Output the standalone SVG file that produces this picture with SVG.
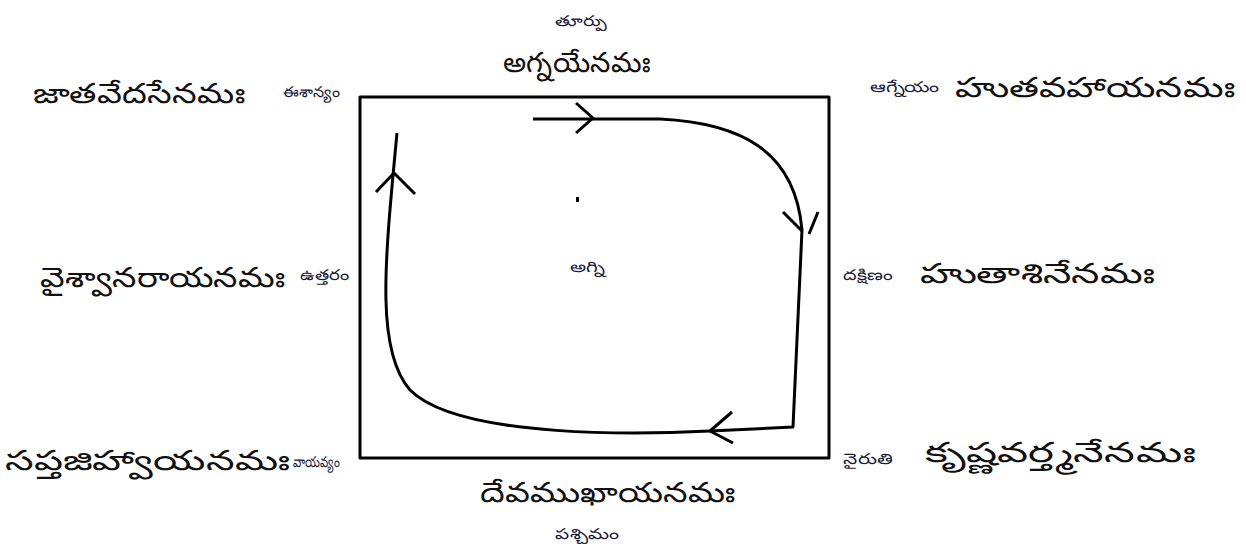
<svg xmlns="http://www.w3.org/2000/svg" width="1246" height="551" viewBox="0 0 1246 551">
<style>
.big{font-family:"Noto Sans","DejaVu Sans",sans-serif;font-size:28px;font-weight:300;fill:#111}
.sm{font-family:"Noto Sans","DejaVu Sans",sans-serif;font-size:15px;fill:#1a1a3a}
.ln{fill:none;stroke:#000;stroke-width:3;stroke-linecap:butt;stroke-linejoin:round}
</style>
<rect width="1246" height="551" fill="#fff"/>
<g id="frame"><rect x="360" y="97" width="469" height="361" class="ln"/></g>
<g id="connectors">
<path class="ln" d="M533,119 L660,119 C740,123 795,150 802,230 L793,427 L710,431 C650,434 460,440 410,390 C375,350 385,260 397,133"/>
<path class="ln" d="M576,103 L593,118 L576,133"/>
<path class="ln" d="M783,212 L802,231 M818,212 L809,234"/>
<path class="ln" d="M732,412 L710,431 L733,443"/>
<path class="ln" d="M376,192 L394,173 L415,194"/>
</g>
<g id="center">
<rect x="576" y="197" width="3" height="5" fill="#000"/>
<text class="sm" x="570" y="272" textLength="35" lengthAdjust="spacingAndGlyphs">అగ్ని</text>
</g>
<g id="east">
<text class="sm" x="555" y="26" textLength="52" lengthAdjust="spacingAndGlyphs">తూర్పు</text>
<text class="big" x="503" y="72" textLength="147" lengthAdjust="spacingAndGlyphs">అగ్నయేనమః</text>
</g>
<g id="northeast">
<text class="big" x="33" y="103" textLength="212" lengthAdjust="spacingAndGlyphs">జాతవేదసేనమః</text>
<text class="sm" x="283" y="97" textLength="57" lengthAdjust="spacingAndGlyphs">ఈశాన్యం</text>
</g>
<g id="southeast">
<text class="sm" x="870" y="92" textLength="70" lengthAdjust="spacingAndGlyphs">ఆగ్నేయం</text>
<text class="big" x="955" y="97" textLength="280" lengthAdjust="spacingAndGlyphs">హుతవహాయనమః</text>
</g>
<g id="north">
<text class="big" x="40" y="287" textLength="245" lengthAdjust="spacingAndGlyphs">వైశ్వానరాయనమః</text>
<text class="sm" x="300" y="280" textLength="50" lengthAdjust="spacingAndGlyphs">ఉత్తరం</text>
</g>
<g id="south">
<text class="sm" x="843" y="280" textLength="50" lengthAdjust="spacingAndGlyphs">దక్షిణం</text>
<text class="big" x="920" y="283" textLength="235" lengthAdjust="spacingAndGlyphs">హుతాశినేనమః</text>
</g>
<g id="northwest">
<text class="big" x="5" y="470" textLength="285" lengthAdjust="spacingAndGlyphs">సప్తజిహ్వాయనమః</text>
<text class="sm" x="293" y="467" textLength="47" lengthAdjust="spacingAndGlyphs">వాయవ్యం</text>
</g>
<g id="southwest">
<text class="sm" x="843" y="464" textLength="50" lengthAdjust="spacingAndGlyphs">నైరుతి</text>
<text class="big" x="925" y="462" textLength="270" lengthAdjust="spacingAndGlyphs">కృష్ణవర్త్మనేనమః</text>
</g>
<g id="west">
<text class="big" x="480" y="502" textLength="255" lengthAdjust="spacingAndGlyphs">దేవముఖాయనమః</text>
<text class="sm" x="555" y="539" textLength="65" lengthAdjust="spacingAndGlyphs">పశ్చిమం</text>
</g>
</svg>
